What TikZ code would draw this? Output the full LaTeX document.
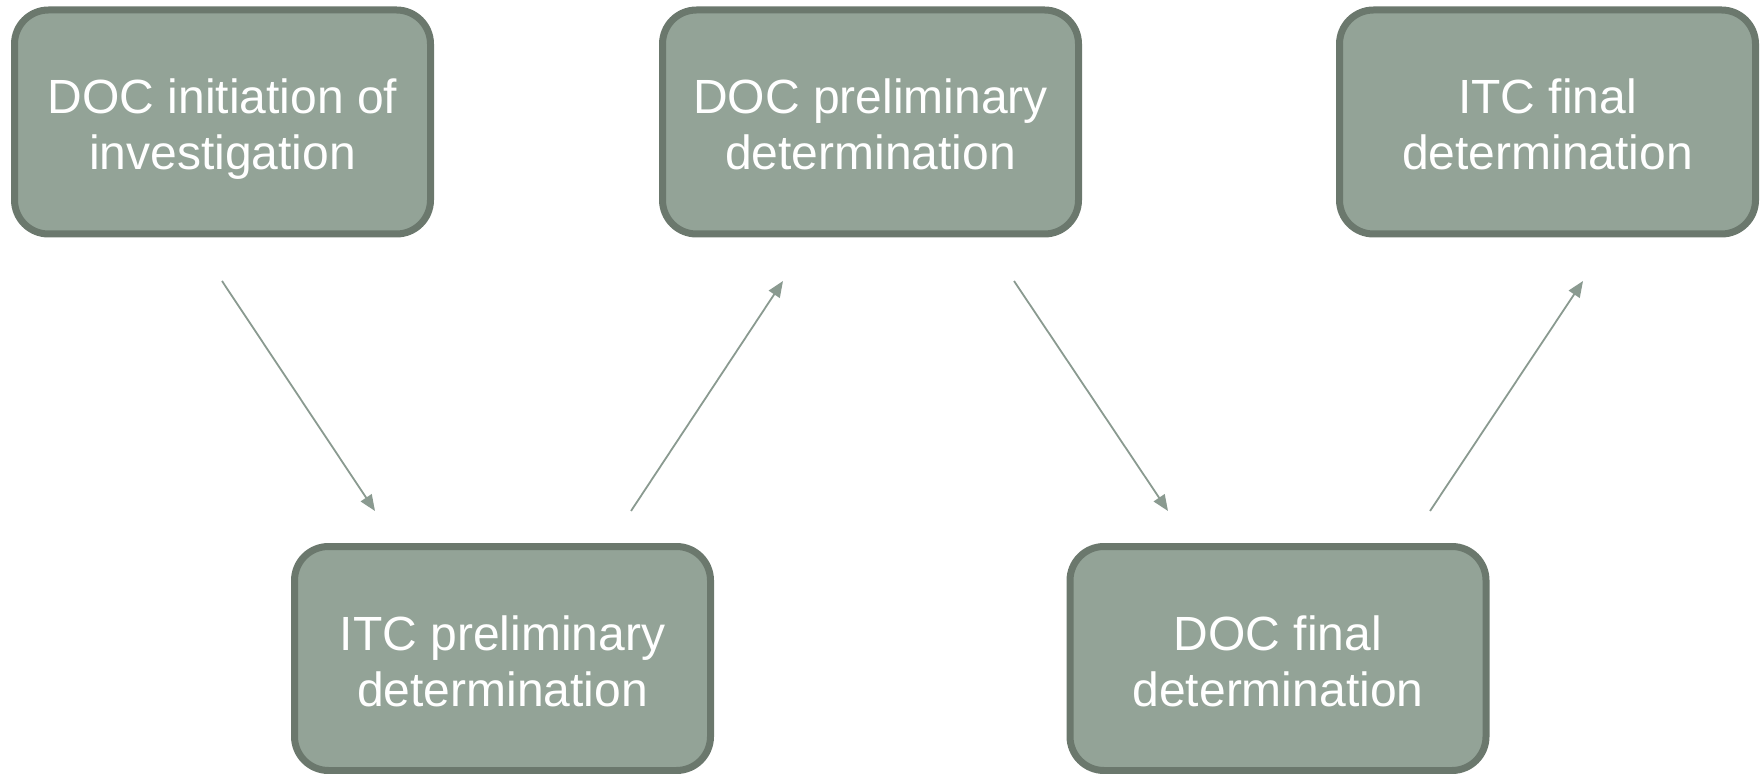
\documentclass[tikz,border=0pt]{standalone}
\usepackage{fontspec}
\setmainfont{Liberation Sans}
\usetikzlibrary{arrows.meta}
\definecolor{boxfill}{HTML}{93A397}
\definecolor{boxline}{HTML}{6B786D}
\definecolor{arrowcol}{HTML}{8A9A90}
\newcommand\twolines[2]{\rule{0pt}{27pt}#1\\#2\rule[-7pt]{0pt}{7pt}}
\tikzset{
  stagebox/.style={draw=boxline, fill=boxfill, line width=3.5pt, rounded corners=17pt,
    minimum width=208pt, minimum height=112pt, align=center, text=white,
    font=\fontsize{24pt}{28pt}\selectfont, inner sep=0pt},
  flow/.style={draw=arrowcol, line width=0.9pt, -{Triangle[length=8pt,width=6.5pt]}}
}
\begin{document}
\begin{tikzpicture}[x=0.5pt,y=-0.5pt]
\useasboundingbox (0,0) rectangle (1760,774);
\node[stagebox] (init) at (222.5,122) {\twolines{DOC initiation of}{investigation}};
\node[stagebox] (itcp) at (502.5,658.5) {\twolines{ITC preliminary}{determination}};
\node[stagebox] (docp) at (870.5,122) {\twolines{DOC preliminary}{determination}};
\node[stagebox] (docf) at (1278,658.5) {\twolines{DOC final}{determination}};
\node[stagebox] (itcf) at (1547.5,122) {\twolines{ITC final}{determination}};
\coordinate (a1s) at (222,281);  \coordinate (a1e) at (375,511);
\coordinate (a2s) at (631,511);  \coordinate (a2e) at (783,281);
\coordinate (a3s) at (1014,281); \coordinate (a3e) at (1168,511);
\coordinate (a4s) at (1430,511); \coordinate (a4e) at (1583,281);
\draw[flow] (a1s) -- (a1e);
\draw[flow] (a2s) -- (a2e);
\draw[flow] (a3s) -- (a3e);
\draw[flow] (a4s) -- (a4e);
\end{tikzpicture}
\end{document}
